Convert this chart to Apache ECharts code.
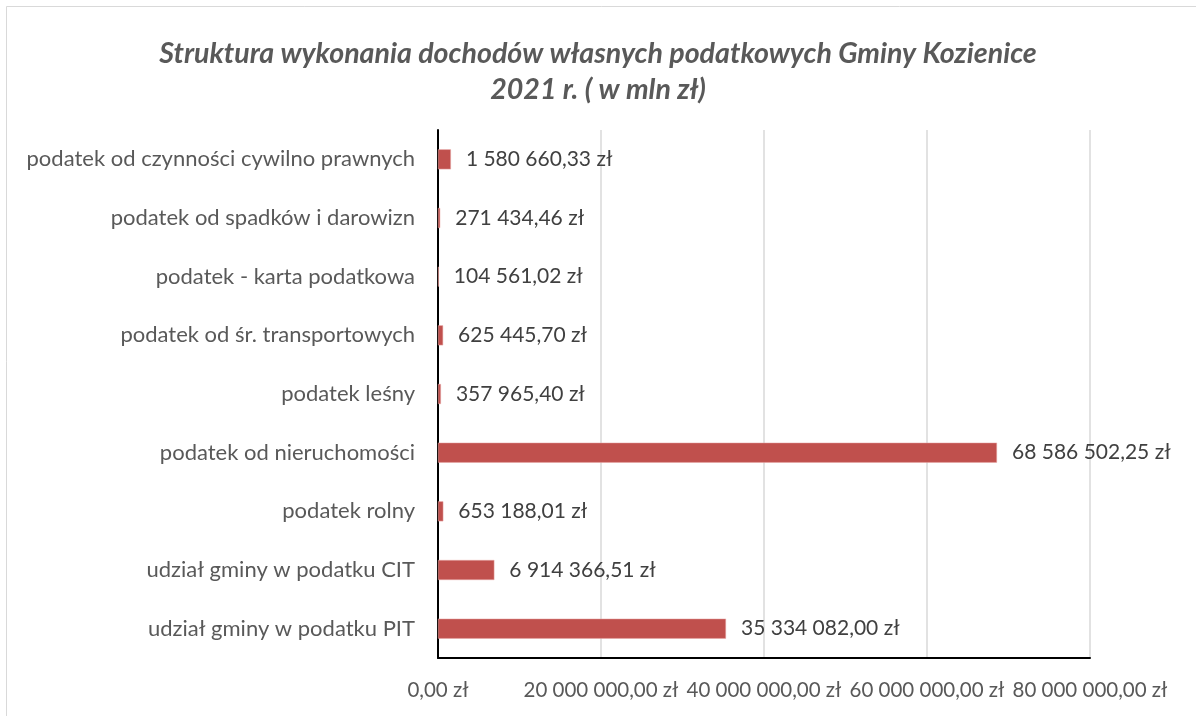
<!DOCTYPE html>
<html>
<head>
<meta charset="utf-8">
<script src="https://cdn.jsdelivr.net/npm/echarts@6/dist/echarts.min.js"></script>
<style>
html,body{margin:0;padding:0;background:#fff;}
#c{width:1196px;height:716px;}
</style>
</head>
<body>
<div id="c"></div>
<script>
const categories = [
  "udział gminy w podatku PIT",
  "udział gminy w podatku CIT",
  "podatek rolny",
  "podatek od nieruchomości",
  "podatek leśny",
  "podatek od śr. transportowych",
  "podatek - karta podatkowa",
  "podatek od spadków i darowizn",
  "podatek od czynności cywilno prawnych"
];
const values = [35334082.00, 6914366.51, 653188.01, 68586502.25, 357965.40, 625445.70, 104561.02, 271434.46, 1580660.33];
const axisMin = 0, axisMax = 80000000, axisStep = 20000000;
const titleLines = ["Struktura wykonania dochodów własnych podatkowych Gminy Kozienice", "2021 r. ( w mln zł)"];

function fmtZl(v){
  const parts = v.toFixed(2).split(".");
  const intPart = parts[0].replace(/\B(?=(\d{3})+(?!\d))/g, " ");
  return intPart + "," + parts[1] + " zł";
}

const chart = echarts.init(document.getElementById('c'), null, {renderer:'canvas'});
chart.setOption({
  animation:false,
  backgroundColor:'#ffffff',
  graphic:[{
    type:'rect', shape:{x:6.5,y:6.5,width:1200,height:720},
    style:{fill:'none',stroke:'#d9d9d9',lineWidth:1}, silent:true, z:-1
  }],
  title:{
    text: titleLines.join("\n"),
    left:'center', top:31,
    textStyle:{fontFamily:'Lato', fontStyle:'italic', fontWeight:'bold', fontSize:28.6, color:'#595959', lineHeight:36}
  },
  grid:{left:438, right:106, top:130, bottom:58, containLabel:false},
  xAxis:{
    type:'value', min:axisMin, max:axisMax, interval:axisStep,
    axisLine:{show:true, lineStyle:{color:'#000', width:2}},
    axisTick:{show:false},
    splitLine:{show:true, lineStyle:{color:'#d9d9d9', width:1.5}},
    axisLabel:{margin:22, color:'#595959', fontFamily:'Lato', fontSize:20.5,
      formatter:function(v){return fmtZl(v);}}
  },
  yAxis:{
    type:'category', data:categories,
    axisLine:{show:true, lineStyle:{color:'#000', width:2}},
    axisTick:{show:false},
    axisLabel:{margin:23, color:'#595959', fontFamily:'Lato', fontSize:22}
  },
  series:[{
    type:'bar', data:values, barWidth:20,
    itemStyle:{color:'#C0504D', borderColor:'#e8a8a6', borderWidth:0.5},
    label:{show:true, position:'right', distance:15, color:'#404040', fontFamily:'Lato', fontSize:21,
      formatter:function(p){return fmtZl(p.value);}}
  }]
});
</script>
</body>
</html>
